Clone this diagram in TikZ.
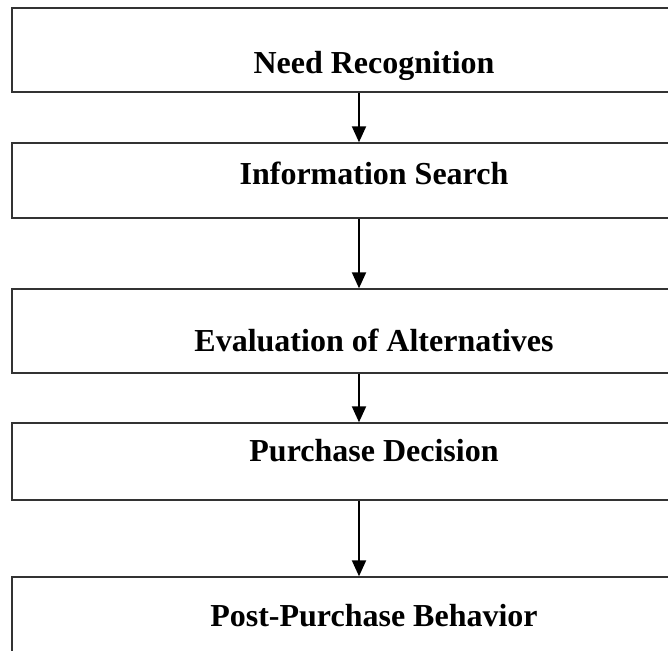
\documentclass[tikz,border=0pt]{standalone}
\usepackage{fontspec}
\setmainfont{Liberation Serif}
\usetikzlibrary{arrows.meta}
\begin{document}
\begin{tikzpicture}[x=1pt,y=1pt,
  stg/.style={draw=black!80,line width=1.4pt,rectangle,fill=white,inner sep=0pt,minimum width=724pt,anchor=base,font=\fontsize{32}{38}\selectfont\bfseries},
  arr/.style={line width=2pt,-{Triangle[width=14pt,length=16pt]}}]
\useasboundingbox (0,0) rectangle (668,-650);
\clip (0,0) rectangle (668,-650);
\node[stg,text height=66pt,text depth=18pt] (NR) at (374,-74) {Need Recognition};
\node[stg,text height=41pt,text depth=34pt] (IS) at (374,-184) {Information Search};
\node[stg,text height=62pt,text depth=22pt] (EA) at (374,-351) {Evaluation of Alternatives};
\node[stg,text height=38pt,text depth=39pt] (PD) at (374,-461) {Purchase Decision};
\node[stg,text height=49pt,text depth=54pt] (PB) at (374,-626) {Post-Purchase Behavior};
\draw[arr] ([xshift=-15pt]NR.south) -- ([xshift=-15pt]IS.north);
\draw[arr] ([xshift=-15pt]IS.south) -- ([xshift=-15pt]EA.north);
\draw[arr] ([xshift=-15pt]EA.south) -- ([xshift=-15pt]PD.north);
\draw[arr] ([xshift=-15pt]PD.south) -- ([xshift=-15pt]PB.north);
\end{tikzpicture}
\end{document}
